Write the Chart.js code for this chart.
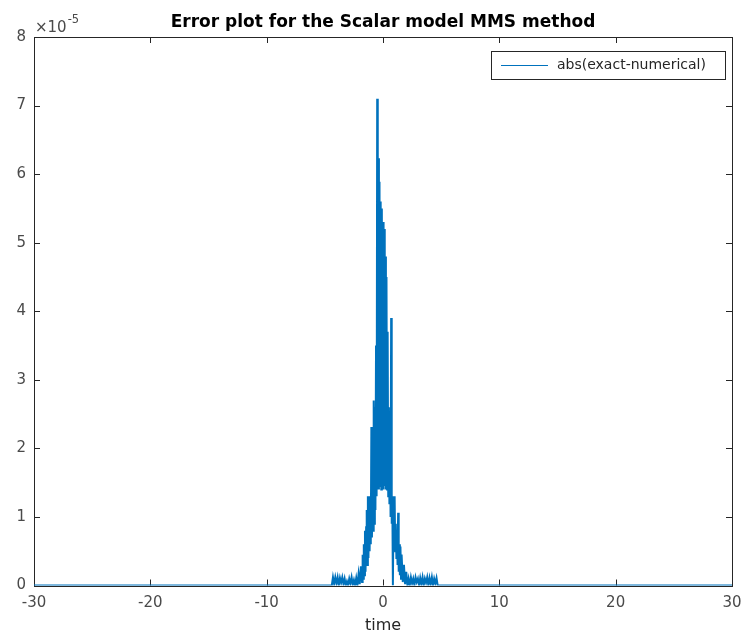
<!DOCTYPE html>
<html>
<head>
<meta charset="utf-8">
<title>Error plot for the Scalar model MMS method</title>
<script src="https://cdn.jsdelivr.net/npm/chart.js@4.4.1/dist/chart.umd.min.js"></script>
<style>
    html, body { margin: 0; padding: 0; background: #ffffff; }
    #wrap { width: 744px; height: 638px; }
</style>
</head>
<body>
<div id="wrap"><canvas id="errorChart" width="744" height="638"></canvas></div>
<script>
// Error plot data
// abs(exact - numerical), in units of 1e-5

const chartTitle = 'Error plot for the Scalar model MMS method';
const seriesLabel = 'abs(exact-numerical)';
const xLabel = 'time';

const timeValues = [
    -30, -4.4, -4.3, -4.2, -4.1, -4.0, -3.9, -3.8, -3.7, -3.6, -3.5,
    -3.4, -3.3, -3.2, -3.1, -3.0, -2.9, -2.8, -2.7, -2.6, -2.5,
    -2.4, -2.3, -2.2, -2.1, -2.0, -1.9, -1.8, -1.75, -1.7, -1.65,
    -1.6, -1.55, -1.5, -1.45,
    -1.4, -1.35, -1.3, -1.25, -1.2, -1.15, -1.1, -1.05, -1.0, -0.95,
    -0.9, -0.85, -0.8, -0.75, -0.7, -0.65, -0.6, -0.55, -0.5, -0.45,
    -0.4, -0.35, -0.3, -0.25, -0.2, -0.15, -0.1, -0.05, 0.0, 0.05,
    0.1, 0.15, 0.2, 0.25, 0.3, 0.35, 0.4, 0.45, 0.5, 0.55,
    0.6, 0.65, 0.7, 0.75, 0.8, 0.85, 0.9, 0.95, 1.0, 1.05,
    1.1, 1.15, 1.2, 1.25, 1.3, 1.35, 1.4, 1.45, 1.5, 1.55, 1.6,
    1.7, 1.8, 1.9, 2.0, 2.1,
    2.2, 2.3, 2.4, 2.5, 2.6, 2.7, 2.8, 2.9, 3.0, 3.1,
    3.2, 3.3, 3.4, 3.5, 3.6, 3.7, 3.8, 3.9, 4.0, 4.1,
    4.2, 4.3, 4.4, 4.5, 4.6, 4.7, 30
];

const errorValues = [
    0, 0, 0.12, 0.02, 0.12, 0.03, 0.12, 0.0, 0.11, 0.04, 0.12,
    0.02, 0.1, 0.0, 0.06, 0.0, 0.1, 0.03, 0.12, 0.01, 0.08,
    0.0, 0.11, 0.0, 0.17, 0.02, 0.28, 0.05, 0.45, 0.1, 0.6,
    0.15, 0.8, 0.2, 0.85,
    1.1, 0.3, 1.3, 0.4, 1.3, 0.5, 1.3, 0.6, 2.31, 0.7,
    1.35, 0.8, 2.7, 0.9, 2.6, 1.1, 3.5, 1.3, 7.1, 1.4,
    6.23, 1.4, 5.89, 1.45, 5.6, 1.4, 5.5, 1.4, 5.3, 1.4,
    5.2, 1.45, 4.8, 1.4, 4.5, 1.4, 3.7, 1.3, 2.6, 1.2,
    2.5, 1.0, 3.9, 0.9, 1.3, 0.0, 1.0, 0.6, 1.3, 0.5,
    0.9, 0.4, 0.8, 0.3, 1.06, 0.2, 0.6, 0.15, 0.57, 0.1, 0.45,
    0.05, 0.3, 0.02, 0.2, 0.0,
    0.1, 0.0, 0.12, 0.03, 0.1, 0.0, 0.12, 0.05, 0.1, 0.0,
    0.11, 0.02, 0.12, 0.0, 0.1, 0.04, 0.12, 0.0, 0.11, 0.02,
    0.12, 0.0, 0.1, 0.03, 0.11, 0, 0
];

const xTickValues = [-30, -20, -10, 0, 10, 20, 30];
const yTickValues = [0, 1, 2, 3, 4, 5, 6, 7, 8];

// Colors
const lineColor = '#0072bd';
const axisColor = '#262626';
const labelColor = '#4a4a4a';

Chart.defaults.font.family = '"DejaVu Sans", sans-serif';
Chart.defaults.color = labelColor;

// Draws the axes box with inward ticks, title, exponent and legend
const matlabFrame = {
    id: 'matlabFrame',
    beforeDatasetsDraw(chart) {
        const { ctx, chartArea: a, scales } = chart;
        ctx.save();
        ctx.strokeStyle = axisColor;
        ctx.lineWidth = 1;
        ctx.strokeRect(Math.round(a.left) + 0.5, Math.round(a.top) + 0.5,
            Math.round(a.right - a.left), Math.round(a.bottom - a.top));

        const tl = 6;
        ctx.beginPath();
        xTickValues.slice(1, -1).forEach(v => {
            const x = Math.round(scales.x.getPixelForValue(v)) + 0.5;
            ctx.moveTo(x, a.bottom); ctx.lineTo(x, a.bottom - tl);
            ctx.moveTo(x, a.top); ctx.lineTo(x, a.top + tl);
        });
        yTickValues.slice(1, -1).forEach(v => {
            const y = Math.round(scales.y.getPixelForValue(v)) + 0.5;
            ctx.moveTo(a.left, y); ctx.lineTo(a.left + tl, y);
            ctx.moveTo(a.right, y); ctx.lineTo(a.right - tl, y);
        });
        ctx.stroke();
        ctx.restore();
    },
    afterDraw(chart) {
        const { ctx, chartArea: a } = chart;
        ctx.save();

        // title
        ctx.fillStyle = '#000000';
        ctx.font = 'bold 17px "DejaVu Sans"';
        ctx.textAlign = 'center';
        ctx.textBaseline = 'alphabetic';
        ctx.fillText(chartTitle, (a.left + a.right) / 2, 27);

        // exponent label
        ctx.fillStyle = labelColor;
        ctx.textAlign = 'left';
        ctx.font = '15px "DejaVu Sans"';
        ctx.fillText('\u00d710', a.left + 1, 32);
        const w = ctx.measureText('\u00d710').width;
        ctx.font = '11.5px "DejaVu Sans"';
        ctx.fillText('-5', a.left + 2 + w, 23);

        // legend
        const lx = 491, ly = 51, lw = 234, lh = 28;
        ctx.fillStyle = '#ffffff';
        ctx.fillRect(lx, ly, lw, lh);
        ctx.strokeStyle = axisColor;
        ctx.lineWidth = 1;
        ctx.strokeRect(lx + 0.5, ly + 0.5, lw, lh);
        ctx.strokeStyle = lineColor;
        ctx.lineWidth = 1.2;
        ctx.beginPath();
        ctx.moveTo(501, 65.5);
        ctx.lineTo(548, 65.5);
        ctx.stroke();
        ctx.fillStyle = axisColor;
        ctx.font = '14px "DejaVu Sans"';
        ctx.textBaseline = 'middle';
        ctx.fillText(chart.data.datasets[0].label, 557, 65.5);
        ctx.restore();
    }
};

const points = timeValues.map((t, i) => ({ x: t, y: errorValues[i] }));

const ctx = document.getElementById('errorChart').getContext('2d');
const errorChart = new Chart(ctx, {
    type: 'line',
    data: {
        datasets: [{
            label: seriesLabel,
            data: points,
            borderColor: lineColor,
            borderWidth: 2,
            pointRadius: 0,
            tension: 0,
            fill: false
        }]
    },
    options: {
        responsive: false,
        animation: false,
        layout: {
            padding: { top: 37, right: 12, left: 0, bottom: 0 }
        },
        plugins: {
            legend: { display: false },
            title: { display: false },
            tooltip: { enabled: false }
        },
        scales: {
            x: {
                type: 'linear',
                min: -30,
                max: 30,
                grid: { display: false, drawTicks: false },
                border: { display: false },
                afterBuildTicks: scale => {
                    scale.ticks = xTickValues.map(v => ({ value: v }));
                },
                afterFit: scale => {
                    scale.height = 52.5;
                    scale.paddingLeft = 0;
                    scale.paddingRight = 0;
                },
                ticks: {
                    padding: 9,
                    maxRotation: 0,
                    font: { size: 15 },
                    color: labelColor
                },
                title: {
                    display: true,
                    text: xLabel,
                    color: axisColor,
                    font: { size: 16 },
                    padding: { top: 0, bottom: 3 }
                }
            },
            y: {
                type: 'linear',
                min: 0,
                max: 8,
                grid: { display: false, drawTicks: false },
                border: { display: false },
                afterBuildTicks: scale => {
                    scale.ticks = yTickValues.map(v => ({ value: v }));
                },
                afterFit: scale => {
                    scale.width = 34;
                    scale.paddingTop = 0;
                    scale.paddingBottom = 0;
                },
                ticks: {
                    padding: 8,
                    font: { size: 15 },
                    color: labelColor
                }
            }
        }
    },
    plugins: [matlabFrame]
});
</script>
</body>
</html>
